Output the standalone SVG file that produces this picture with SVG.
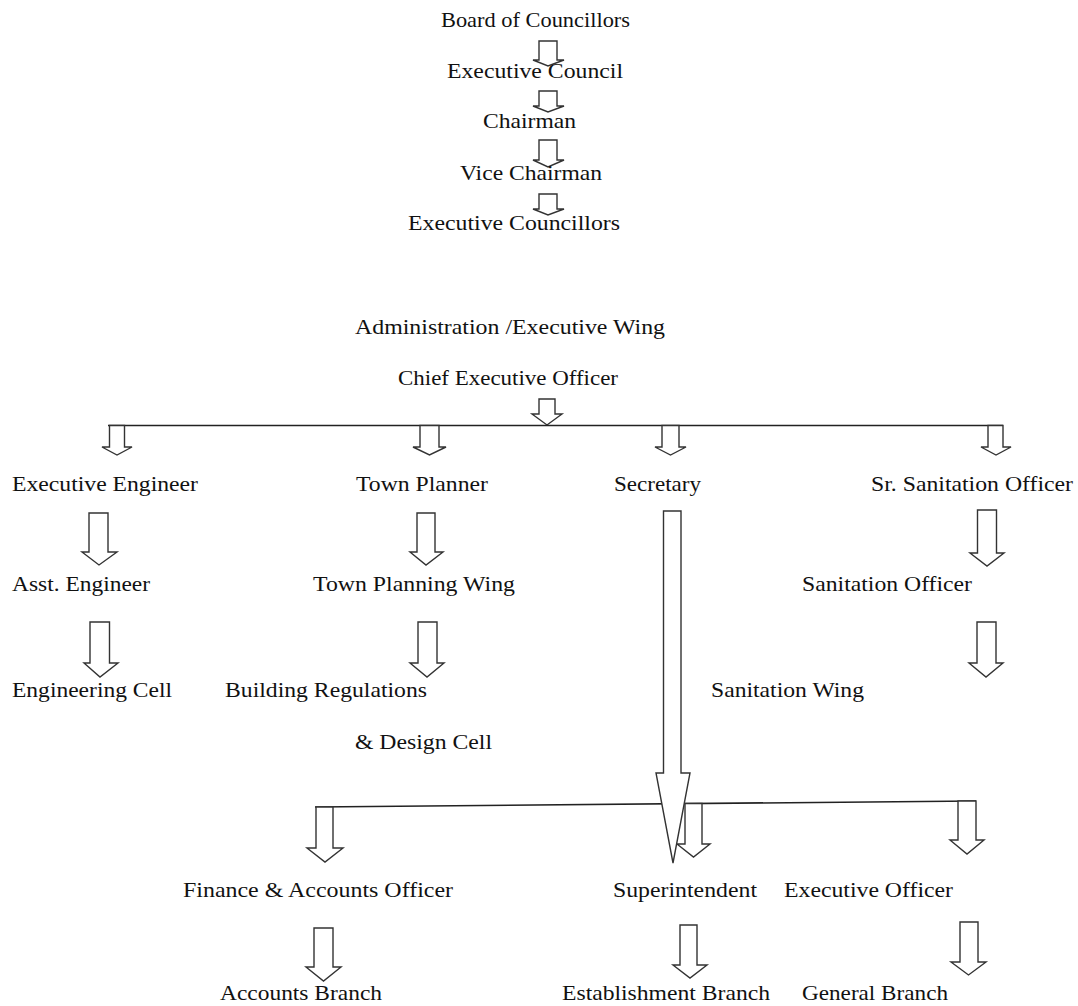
<svg xmlns="http://www.w3.org/2000/svg" width="1078" height="1006" viewBox="0 0 1078 1006">
<style>
.t{font-family:"Liberation Serif","Times New Roman",serif;font-size:22px;fill:#111}
.a{fill:#fff;stroke:#333;stroke-width:1.4;stroke-linejoin:miter}
.l{fill:none;stroke:#222;stroke-width:1.6}
</style>
<rect width="1078" height="1006" fill="#fff"/>
<g id="connectors">
<polygon class="a" points="539,41 557,41 557,60 564,60 548,66 533,60 539,60"/>
<polygon class="a" points="539,91 557,91 557,106 564,106 548,112 533,106 539,106"/>
<polygon class="a" points="539,140 557,140 557,160 564,160 548,167 533,160 539,160"/>
<polygon class="a" points="539,194 557,194 557,209 564,209 548,215 533,209 539,209"/>
<polygon class="a" points="539,399 555,399 555,414 562,414 547,425 532,414 539,414"/>
<line class="l" x1="108" y1="425.5" x2="1003" y2="425.5"/>
<polygon class="a" points="109.5,425.5 124.5,425.5 124.5,447 132,447 117,455 102,447 109.5,447"/>
<polygon class="a" points="420,425.5 439,425.5 439,447 446,447 429.5,455 413,447 420,447"/>
<polygon class="a" points="662,425.5 679,425.5 679,447 686,447 670.5,455 655,447 662,447"/>
<polygon class="a" points="988,425.5 1003,425.5 1003,447 1011,447 996,455 981,447 988,447"/>
<polygon class="a" points="89,513 108,513 108,552 117,552 99,565 82,552 89,552"/>
<polygon class="a" points="417,513 435,513 435,552 443,552 426,565 410,552 417,552"/>
<polygon class="a" points="977.5,510 996.5,510 996.5,553 1004,553 987,566 970,553 977.5,553"/>
<polygon class="a" points="90,622 109.5,622 109.5,663 118,663 100,677 84,663 90,663"/>
<polygon class="a" points="418,622 437,622 437,663 444,663 427,677 410,663 418,663"/>
<polygon class="a" points="977,622 996,622 996,663 1003,663 986,677 969,663 977,663"/>
<line class="l" x1="315" y1="807" x2="976" y2="801"/>
<polygon class="a" points="316,807 333,807 333,848 343,848 325,862 307,848 316,848"/>
<polygon class="a" points="685,803.5 702,803.5 702,844 710,844 693.5,857 677,844 685,844"/>
<polygon class="a" points="958,801 976,801 976,840 984,840 967,854 950,840 958,840"/>
<polygon class="a" points="663.5,511 681,511 681,773 690,773 673,863 656,773 663.5,773"/>
<polygon class="a" points="314,928 333,928 333,967 341,967 323.5,981 306,967 314,967"/>
<polygon class="a" points="680,925 697,925 697,965 707,965 690,978 673,965 680,965"/>
<polygon class="a" points="960,922 978,922 978,962 986,962 968.5,975 951,962 960,962"/>
</g>
<g id="n-board"><text class="t" x="441" y="27" textLength="189" lengthAdjust="spacingAndGlyphs">Board of Councillors</text></g>
<g id="n-exec-council"><text class="t" x="447" y="78" textLength="176" lengthAdjust="spacingAndGlyphs">Executive Council</text></g>
<g id="n-chairman"><text class="t" x="483" y="128" textLength="93" lengthAdjust="spacingAndGlyphs">Chairman</text></g>
<g id="n-vice"><text class="t" x="460" y="180" textLength="142" lengthAdjust="spacingAndGlyphs">Vice Chairman</text></g>
<g id="n-exec-councillors"><text class="t" x="408" y="230" textLength="212" lengthAdjust="spacingAndGlyphs">Executive Councillors</text></g>
<g id="n-admin"><text class="t" x="355" y="334" textLength="310" lengthAdjust="spacingAndGlyphs">Administration /Executive Wing</text></g>
<g id="n-ceo"><text class="t" x="398" y="385" textLength="220" lengthAdjust="spacingAndGlyphs">Chief Executive Officer</text></g>
<g id="n-ee"><text class="t" x="12" y="491" textLength="186" lengthAdjust="spacingAndGlyphs">Executive Engineer</text></g>
<g id="n-tp"><text class="t" x="356" y="491" textLength="132" lengthAdjust="spacingAndGlyphs">Town Planner</text></g>
<g id="n-sec"><text class="t" x="614" y="491" textLength="87" lengthAdjust="spacingAndGlyphs">Secretary</text></g>
<g id="n-sso"><text class="t" x="871" y="491" textLength="202" lengthAdjust="spacingAndGlyphs">Sr. Sanitation Officer</text></g>
<g id="n-ae"><text class="t" x="12" y="591" textLength="138" lengthAdjust="spacingAndGlyphs">Asst. Engineer</text></g>
<g id="n-tpw"><text class="t" x="313" y="591" textLength="202" lengthAdjust="spacingAndGlyphs">Town Planning Wing</text></g>
<g id="n-so"><text class="t" x="802" y="591" textLength="170" lengthAdjust="spacingAndGlyphs">Sanitation Officer</text></g>
<g id="n-ec"><text class="t" x="12" y="697" textLength="160" lengthAdjust="spacingAndGlyphs">Engineering Cell</text></g>
<g id="n-brdc"><text class="t" x="225" y="697" textLength="202" lengthAdjust="spacingAndGlyphs">Building Regulations</text><text class="t" x="355" y="749" textLength="137" lengthAdjust="spacingAndGlyphs">&amp; Design Cell</text></g>
<g id="n-sw"><text class="t" x="711" y="697" textLength="153" lengthAdjust="spacingAndGlyphs">Sanitation Wing</text></g>
<g id="n-fao"><text class="t" x="183" y="897" textLength="270" lengthAdjust="spacingAndGlyphs">Finance &amp; Accounts Officer</text></g>
<g id="n-sup"><text class="t" x="613" y="897" textLength="144" lengthAdjust="spacingAndGlyphs">Superintendent</text></g>
<g id="n-eo"><text class="t" x="784" y="897" textLength="169" lengthAdjust="spacingAndGlyphs">Executive Officer</text></g>
<g id="n-ab"><text class="t" x="220" y="1000" textLength="162" lengthAdjust="spacingAndGlyphs">Accounts Branch</text></g>
<g id="n-eb"><text class="t" x="562" y="1000" textLength="208" lengthAdjust="spacingAndGlyphs">Establishment Branch</text></g>
<g id="n-gb"><text class="t" x="802" y="1000" textLength="146" lengthAdjust="spacingAndGlyphs">General Branch</text></g>
</svg>
